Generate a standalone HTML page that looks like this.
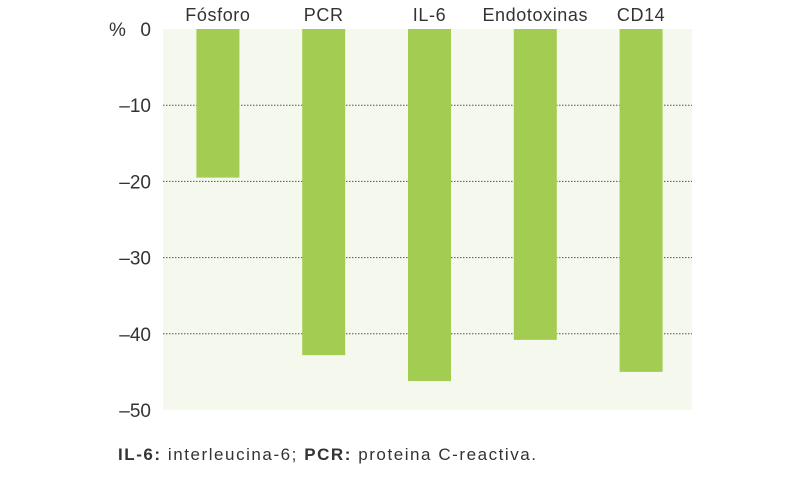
<!DOCTYPE html>
<html><head><meta charset="utf-8"><style>
body{margin:0;background:#fff;}
svg text{font-family:"Liberation Sans",sans-serif;fill:#333;}
</style></head><body>
<svg width="800" height="480">
<rect x="163" y="29" width="529" height="381" fill="#f5f8ec"/>
<g id="grid"></g><g id="bars"></g><g id="labels"></g><g id="yticks"></g>
<text x="109" y="36" font-size="19">%</text>
<text x="118" y="460" font-size="17" textLength="418" lengthAdjust="spacing"><tspan font-weight="bold">IL-6:</tspan> interleucina-6; <tspan font-weight="bold">PCR:</tspan> proteina C-reactiva.</text>
</svg>
<script>
const categories=["Fósforo","PCR","IL-6","Endotoxinas","CD14"];
const values=[-19.5,-42.8,-46.2,-40.8,-45.0];
const ticks=[0,-10,-20,-30,-40,-50];
const ns="http://www.w3.org/2000/svg";
const x0=163,pw=529,y0=29,ph=381,ymin=-50;
const y=v=>y0+(v/ymin)*ph;
const band=pw/categories.length;
const xc=i=>x0+band*(i+0.5)+2;
function mk(t,a,p){const e=document.createElementNS(ns,t);for(const k in a)e.setAttribute(k,a[k]);document.getElementById(p).appendChild(e);return e;}
ticks.forEach(t=>{
 if(t!==0&&t!==ymin){const l=mk("line",{x1:x0,x2:x0+pw,y1:y(t),y2:y(t),stroke:"#555","stroke-width":1,"stroke-dasharray":"1.5,1.5"},"grid");
 
 }
 const tx=mk("text",{x:151,y:y(t)+7,"text-anchor":"end","font-size":"19"},"yticks");
 tx.textContent=t===0?"0":"\u2013"+Math.abs(t);
 
 
});
categories.forEach((c,i)=>{
 const r=mk("rect",{x:xc(i)-21.5,y:y(0),width:43,height:y(values[i])-y(0),fill:"#a3cd52"},"bars");
 
 
 const t=mk("text",{x:xc(i),y:21,"text-anchor":"middle","font-size":"18","letter-spacing":"0.6"},"labels");
 t.textContent=c;
 
 
});
</script>
</body></html>
